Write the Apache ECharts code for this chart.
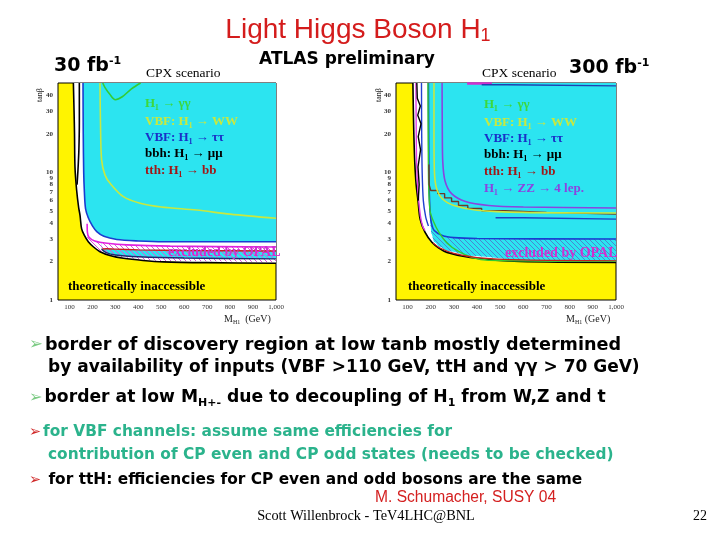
<!DOCTYPE html>
<html><head><meta charset="utf-8">
<script src="https://cdn.jsdelivr.net/npm/echarts@6/dist/echarts.min.js"></script>
<style>html,body{margin:0;padding:0;background:#fff}#c{width:720px;height:540px}</style>
</head><body><div id="c"></div>
<script>
// ---------- axes ----------
const massTicks = [100,200,300,400,500,600,700,800,900,1000];
const tanbTicks = [1,2,3,4,5,6,7,8,9,10,20,30,40];
const massRange = [50,1000];
const tanbRange = [1,50];

// ---------- left plot (30 fb-1) : [M_H1, tanb] ----------
const L_theory   = [[117,50],[120,30],[122,20],[124,11],[131,7.3],[140,5.3],[146,4.6],[153,3.6],[165,3.2],[182,2.86],[205,2.6],[233,2.39],[280,2.22],[335,2.12],[420,2.04],[509,1.99],[700,1.96],[1000,1.94]];
const L_disc     = [[159,50],[160,20],[162,10],[165,7],[170,5.2],[182,4.4],[200,3.8],[219,3.43],[250,3.15],[306,2.98],[400,2.9],[509,2.86],[1000,2.86]];
const L_opalUp   = [[177,3.95],[178,3.4],[185,3.1],[210,2.9],[264,2.78],[350,2.7],[539,2.64],[1000,2.6]];
const L_opalLow  = [[177,3.95],[178,2.95],[182,2.88],[205,2.62],[233,2.42],[280,2.25],[335,2.15],[420,2.07],[509,2.02],[1000,1.97]];
const L_stripUp  = [[240,2.5],[260,2.52],[300,2.5],[400,2.47],[600,2.44],[1000,2.42]];
const L_stripLow = [[240,2.5],[260,2.35],[300,2.25],[400,2.18],[600,2.13],[1000,2.1]];
const L_bbh2     = [[143,50],[143,25],[141,15],[137,10.4],[133,8]];
const L_vbfWW    = [[233,50],[235,25],[240,12.5],[255,9.5],[277,8.2],[335,6.44],[408,5.72],[500,5.35],[654,5.06],[800,4.7],[1000,4.36]];
const L_gamgam   = [[245,50],[255,46],[275,41],[300,37],[330,39],[370,45],[410,50]];

// ---------- right plot (300 fb-1) ----------
const R_theory   = [[123,50],[125,30],[127,20],[131,12],[137,8],[145,6],[154,4.3],[175,3.4],[205,2.83],[235,2.55],[270,2.36],[370,2.15],[585,2.0],[1000,1.97]];
const R_disc     = [[190,50],[190,20],[192,8],[195,5],[198,4],[203,3.3],[215,2.85],[240,2.6],[275,2.42],[370,2.22],[585,2.06],[1000,2.03]];
const R_tautau   = [[190,50],[191,20],[193,8],[197,5],[203,4.0],[215,3.5],[250,3.2],[300,3.08],[400,3.03],[1000,3.0]];
const R_opalPink = [[136,50],[137,25],[139,12],[145,7],[155,4.6],[165,3.8],[175,3.5]];
const R_blue2    = [[160,50],[161,20],[163,10],[168,6],[178,4.5],[190,3.8]];
const R_bbh      = [[140,50],[142,38],[155,33],[144,28],[158,24],[146,19],[156,15],[145,11],[150,8],[146,6]];
const R_gamgam   = [[188,50],[189,20],[191,8],[197,5],[210,4.2],[235,3.4],[270,2.8],[320,2.4],[380,2.15],[450,2.05],[1000,2.01]];
const R_tth      = [[192,11.5],[193,8],[200,7.2],[230,7.2],[230,6.8],[260,6.8],[260,6.3],[290,6.3],[290,5.9],[320,5.9],[320,5.5],[360,5.5],[360,5.2],[420,5.2],[420,5.0],[520,5.0],[520,4.85],[700,4.85],[700,4.75],[1000,4.7]];
const R_tthLow   = [[210,2.8],[240,2.55],[300,2.32],[400,2.15],[600,2.06],[1000,2.03]];
const R_vbfWW    = [[214,50],[214,20],[216,10],[225,7.5],[250,6.2],[300,5.5],[400,5.05],[600,4.85],[1000,4.8]];
const R_zz       = [[249,50],[250,20],[252,12],[262,8.5],[290,6.8],[350,5.9],[450,5.5],[600,5.35],[1000,5.25]];
const R_topMag   = [[357,49.6],[464,49.6]];
const R_topBlue  = [[420,48.5],[530,48.5],[530,47.5],[1000,47.5]];
const R_blue43   = [[480,4.4],[600,4.4],[600,4.3],[1000,4.3]];

const YELLOW = '#FFF400', CYAN = '#2CE4F0', WHITE = '#FFFFFF';

function hatch(color, s){
  const c = document.createElement('canvas');
  c.width = s; c.height = s;
  const g = c.getContext('2d');
  g.strokeStyle = color; g.lineWidth = 1;
  g.beginPath();
  g.moveTo(0,0); g.lineTo(s,s);
  g.moveTo(-1,s-1); g.lineTo(1,s+1);
  g.moveTo(s-1,-1); g.lineTo(s+1,1);
  g.stroke();
  return {image: c, repeat: 'repeat'};
}
const toXY = pts => pts.map(p => [p[0], Math.log10(p[1])]);

function area(gi, pts, color, z){
  return {type:'line', xAxisIndex:gi, yAxisIndex:gi, data:toXY(pts), symbol:'none', silent:true,
    smooth:0.3, smoothMonotone:'x', lineStyle:{opacity:0, width:0},
    areaStyle:{color:color, origin:'end', opacity:1}, z:z, animation:false};
}
function curve(gi, pts, color, w, smooth){
  return {type:'line', xAxisIndex:gi, yAxisIndex:gi, data:toXY(pts), symbol:'none', silent:true,
    smooth: smooth ? 0.3 : false, lineStyle:{color:color, width:w}, z:20, animation:false};
}

const series = [
  area(0, L_theory, WHITE, 2),
  area(0, L_stripLow, CYAN, 3),
  area(0, L_stripUp, WHITE, 4),
  area(0, L_opalLow, hatch('#E050D8', 5), 5),
  area(0, L_opalUp, WHITE, 6),
  area(0, L_disc, CYAN, 7),
  curve(0, L_theory, '#000000', 1.6, true),
  curve(0, L_bbh2, '#000000', 1.6, true),
  curve(0, L_disc, '#1A3CD0', 1.6, true),
  curve(0, L_opalUp, '#E020E0', 1.6, true),
  curve(0, L_stripUp, '#C81E1E', 1.4, true),
  curve(0, L_stripLow, '#1A2A70', 1.4, true),
  curve(0, L_vbfWW, '#C8E840', 1.6, true),
  curve(0, L_gamgam, '#33CC33', 1.6, true),
  area(1, R_theory, WHITE, 2),
  area(1, R_disc, CYAN, 3),
  area(1, R_disc, hatch('#4A86D0', 5), 4),
  area(1, R_tautau, CYAN, 5),
  curve(1, R_theory, '#000000', 1.6, true),
  curve(1, R_opalPink, '#E040E0', 1.4, true),
  curve(1, R_blue2, '#2040D0', 1.4, true),
  curve(1, R_bbh, '#000000', 1.4, false),
  curve(1, R_tautau, '#1A3CD0', 1.6, true),
  curve(1, R_gamgam, '#33CC33', 1.4, true),
  curve(1, R_tthLow, '#C81E1E', 1.2, true),
  curve(1, R_tth, '#6E3A28', 1.4, false),
  curve(1, R_vbfWW, '#C8E840', 1.6, true),
  curve(1, R_zz, '#8A44E0', 1.6, true),
  curve(1, R_topMag, '#D030D0', 2.5, false),
  curve(1, R_topBlue, '#2040B0', 1.4, false),
  curve(1, R_blue43, '#2040C0', 1.4, false)
];

const axLabel = {fontFamily:'Liberation Serif', fontSize:7, color:'#333'};
function xAx(gi){
  return {type:'value', gridIndex:gi, min:massRange[0], max:massRange[1],
    axisLine:{show:false}, axisTick:{show:false}, splitLine:{show:false},
    axisLabel:Object.assign({customValues:massTicks, margin:4}, axLabel)};
}
function yAx(gi){
  return {type:'value', gridIndex:gi, min:Math.log10(tanbRange[0]), max:Math.log10(tanbRange[1]),
    axisLine:{show:false}, axisTick:{show:false}, splitLine:{show:false},
    axisLabel:Object.assign({customValues:tanbTicks.map(v=>Math.log10(v)), margin:5,
      formatter: v => String(Math.round(Math.pow(10, v)))}, axLabel, {fontWeight:'bold'})};
}

const serifB = {fontFamily:'Liberation Serif', fontWeight:'bold', fontSize:13};
function lab(x, y, text, fill, extra){
  return {type:'text', x:x, y:y, z:100, silent:true,
    style:Object.assign({text:text, fill:fill, align:'left', verticalAlign:'middle'}, serifB, extra||{})};
}
function mkRich(fs){
  const f = {fontFamily:'DejaVu Sans', fontWeight:'bold', fontSize:fs};
  return {
    a:{fill:'#7CCB84', fontSize:fs-1, fontFamily:'DejaVu Sans', padding:[0,2,0,0]},
    r:{fill:'#D02828', fontSize:fs-1, fontFamily:'DejaVu Sans', padding:[0,2,0,0]},
    b:Object.assign({fill:'#000'}, f),
    g:Object.assign({fill:'#2BB38C'}, f),
    s:{fill:'#000', fontFamily:'DejaVu Sans', fontWeight:'bold', fontSize:Math.round(fs*0.65), padding:[10,0,0,0]}
  };
}
const richL1 = mkRich(17.6), richL2 = mkRich(17.0), richL3 = mkRich(17.2), richSmall = mkRich(15.4);
function rich(x, y, text, r, extra){
  return {type:'text', x:x, y:y, z:100, silent:true,
    style:Object.assign({text:text, rich:r, align:'left', verticalAlign:'middle'}, extra||{})};
}
const fbRich = {b:{fill:'#000', fontFamily:'DejaVu Sans', fontWeight:'bold', fontSize:19},
    p:{fill:'#000', fontFamily:'DejaVu Sans', fontWeight:'bold', fontSize:11, padding:[0,0,10,0]}};
const mRich = {m:{fill:'#222', fontFamily:'Liberation Serif', fontSize:10}, s:{fill:'#222', fontFamily:'Liberation Serif', fontSize:6, padding:[6,0,0,0]}};

const graphics = [
  rich(358, 30, '{t|Light Higgs Boson H}{s|1}', {
    t:{fill:'#D41C1C', fontFamily:'Liberation Sans', fontSize:28},
    s:{fill:'#D41C1C', fontFamily:'Liberation Sans', fontSize:18, padding:[13,0,0,0]}}, {align:'center'}),
  {type:'text', x:347, y:60, z:100, style:{text:'ATLAS preliminary', fill:'#000', fontFamily:'DejaVu Sans', fontWeight:'bold', fontSize:17, align:'center', verticalAlign:'middle'}},
  rich(54, 66, '{b|30 fb}{p|-1}', fbRich),
  rich(569, 68, '{b|300 fb}{p|-1}', fbRich),
  lab(146, 73, 'CPX scenario', '#000', {fontWeight:'normal', fontSize:13.5}),
  lab(482, 73, 'CPX scenario', '#000', {fontWeight:'normal', fontSize:13.5}),
  {type:'text', x:40, y:95, rotation:Math.PI/2, z:100, style:{text:'tanβ', fill:'#222', fontFamily:'Liberation Serif', fontSize:8, align:'center', verticalAlign:'middle'}},
  {type:'text', x:379, y:95, rotation:Math.PI/2, z:100, style:{text:'tanβ', fill:'#222', fontFamily:'Liberation Serif', fontSize:8, align:'center', verticalAlign:'middle'}},
  rich(224, 319, '{m|M}{s|H1}{m|  (GeV)}', mRich),
  rich(566, 319, '{m|M}{s|H1}{m| (GeV)}', mRich),
  lab(145, 104, 'H₁ → γγ', '#3CD83C'),
  lab(145, 122, 'VBF: H₁ → WW', '#C8E840'),
  lab(145, 138, 'VBF: H₁ → ττ', '#1A30C8'),
  lab(145, 154, 'bbh: H₁ → μμ', '#000'),
  lab(145, 171, 'tth: H₁ → bb', '#A01818'),
  lab(168, 252, 'excluded by OPAL', '#D030D0', {fontSize:14}),
  lab(68, 287, 'theoretically inaccessible', '#000', {fontSize:13}),
  lab(484, 105, 'H₁ → γγ', '#3CD83C'),
  lab(484, 123, 'VBF: H₁ → WW', '#C8E840'),
  lab(484, 139, 'VBF: H₁ → ττ', '#1A30C8'),
  lab(484, 155, 'bbh: H₁ → μμ', '#000'),
  lab(484, 172, 'tth: H₁ → bb', '#A01818'),
  lab(484, 189, 'H₁ → ZZ → 4 lep.', '#8A44E0'),
  lab(505, 253, 'excluded by OPAL', '#D030D0', {fontSize:14}),
  lab(408, 287, 'theoretically inaccessible', '#000', {fontSize:13}),
  rich(29, 345, '{a|➢}{b|border of discovery region at low tanb mostly determined}', richL1),
  rich(48, 368, '{b|by availability of inputs (VBF >110 GeV, ttH and γγ > 70 GeV)}', richL2),
  rich(29, 398, '{a|➢}{b|border at low M}{s|H+-}{b| due to decoupling of H}{s|1}{b| from W,Z and t}', richL3),
  rich(29, 432, '{r|➢}{g|for VBF channels: assume same efficiencies for}', richSmall),
  rich(48, 455, '{g|contribution of CP even and CP odd states (needs to be checked)}', richSmall),
  rich(29, 480, '{r|➢}{b| for ttH: efficiencies for CP even and odd bosons are the same}', richSmall),
  {type:'text', x:375, y:498, z:100, style:{text:'M. Schumacher, SUSY 04', fill:'#D42020', fontFamily:'Liberation Sans', fontSize:15.6, align:'left', verticalAlign:'middle'}},
  {type:'text', x:366, y:516, z:100, style:{text:'Scott Willenbrock - TeV4LHC@BNL', fill:'#000', fontFamily:'Liberation Serif', fontSize:14.3, align:'center', verticalAlign:'middle'}},
  {type:'text', x:700, y:516, z:100, style:{text:'22', fill:'#000', fontFamily:'Liberation Serif', fontSize:14, align:'center', verticalAlign:'middle'}}
];

const chart = echarts.init(document.getElementById('c'), null, {renderer:'canvas'});
chart.setOption({
  animation:false,
  backgroundColor:'#fff',
  grid:[
    {left:58, top:83, width:218, height:217, show:true, backgroundColor:YELLOW, borderColor:'#000', borderWidth:1},
    {left:396, top:83, width:220, height:217, show:true, backgroundColor:YELLOW, borderColor:'#000', borderWidth:1}
  ],
  xAxis:[xAx(0), xAx(1)],
  yAxis:[yAx(0), yAx(1)],
  series:series,
  graphic:graphics
});
</script></body></html>
